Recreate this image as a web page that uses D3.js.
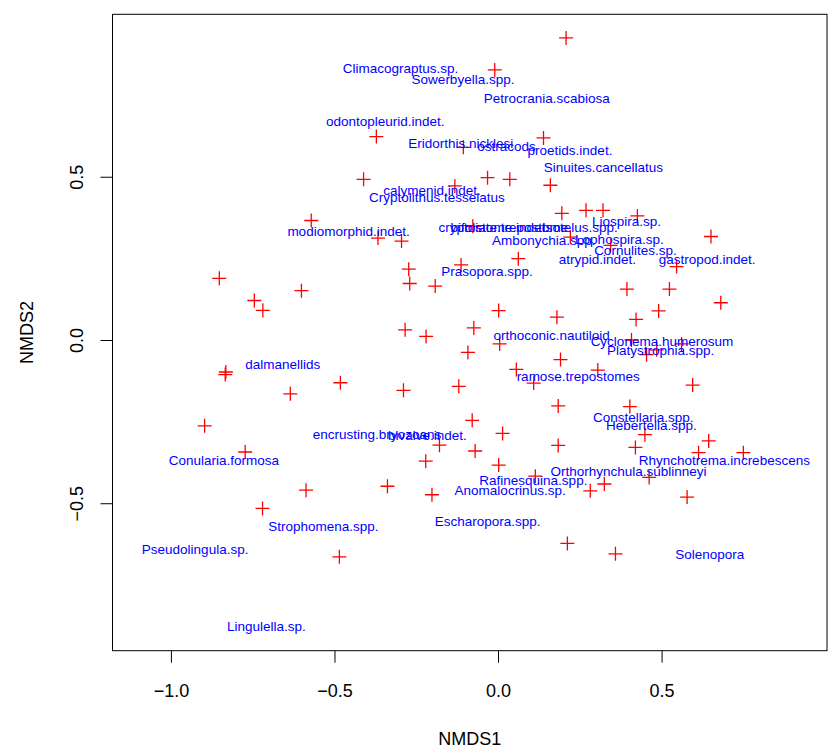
<!DOCTYPE html>
<html>
<head>
<meta charset="utf-8">
<script src="https://cdn.jsdelivr.net/npm/d3@7"></script>
<style>
  html, body { margin: 0; padding: 0; background: #fff; }
  svg { display: block; }
  text { font-family: "Liberation Sans", Arial, Helvetica, sans-serif; }
</style>
</head>
<body>
<div id="chart"></div>
<script>
// ---- data: site scores (red crosses) ----
const siteX = [0.208,-0.010,-0.372,0.139,-0.106,-0.411,-0.032,0.036,-0.132,0.160,
  0.195,0.269,0.321,0.426,-0.571,-0.077,0.651,-0.367,-0.295,0.221,
  0.344,0.062,-0.113,-0.273,0.546,-0.852,-0.270,-0.192,-0.601,0.394,
  0.524,-0.745,-0.719,0.681,0.002,0.491,0.180,0.422,-0.284,-0.074,
  -0.220,0.005,0.408,0.561,0.485,0.454,-0.092,0.191,-0.832,-0.834,
  0.056,0.305,-0.482,0.109,0.595,-0.635,-0.289,-0.120,0.184,0.403,
  -0.897,-0.079,0.014,0.449,0.644,0.184,0.420,-0.773,-0.179,-0.070,
  0.613,0.750,-0.221,0.002,0.114,0.462,0.325,0.282,-0.338,-0.587,
  -0.202,0.578,-0.720,0.212,0.359,-0.485];
const siteY = [0.925,0.827,0.623,0.619,0.590,0.492,0.497,0.492,0.472,0.474,
  0.388,0.397,0.397,0.380,0.366,0.348,0.317,0.312,0.303,0.315,
  0.290,0.249,0.230,0.217,0.225,0.189,0.173,0.165,0.151,0.156,
  0.156,0.121,0.091,0.114,0.090,0.089,0.070,0.063,0.031,0.037,
  0.011,-0.012,0.000,-0.012,-0.030,-0.045,-0.038,-0.060,-0.098,-0.106,
  -0.090,-0.092,-0.131,-0.132,-0.138,-0.165,-0.154,-0.142,-0.202,-0.204,
  -0.263,-0.246,-0.286,-0.290,-0.309,-0.323,-0.329,-0.343,-0.322,-0.340,
  -0.345,-0.345,-0.371,-0.383,-0.417,-0.421,-0.441,-0.462,-0.448,-0.460,
  -0.474,-0.481,-0.516,-0.623,-0.655,-0.664];

// ---- data: species scores (blue labels) ----
const speciesNames = ["Climacograptus.sp.","Sowerbyella.spp.","Petrocrania.scabiosa","odontopleurid.indet.",
  "Eridorthis.nicklesi","ostracods","proetids.indet.","Sinuites.cancellatus","calymenid.indet.",
  "Cryptolithus.tesselatus","modiomorphid.indet.","Liospira.sp.","cryptostome.indet.",
  "bifoliate.trepostome","Isotelus.spp.","Ambonychia.spp.","Lophospira.sp.","Cornulites.sp.",
  "atrypid.indet.","gastropod.indet.","Prasopora.spp.","dalmanellids","orthoconic.nautiloid",
  "Cyclonema.humerosum","Platystrophia.spp.","ramose.trepostomes","Constellaria.spp.",
  "Hebertella.spp.","encrusting.bryozoans","bivalve.indet.","Conularia.formosa",
  "Rhynchotrema.increbescens","Orthorhynchula.sublinneyi","Rafinesquina.spp.",
  "Anomalocrinus.sp.","Escharopora.spp.","Strophomena.spp.","Pseudolingula.sp.",
  "Solenopora","Lingulella.sp."];
const speciesX = [-0.298,-0.107,0.149,-0.345,-0.114,0.026,0.220,0.322,-0.202,
  -0.187,-0.457,0.393,-0.013,0.035,0.250,0.140,0.371,0.420,0.304,0.639,-0.034,
  -0.658,0.164,0.501,0.497,0.245,0.444,0.469,-0.370,-0.216,-0.838,0.692,0.399,
  0.108,0.037,-0.032,-0.534,-0.926,0.647,-0.708];
const speciesY = [0.832,0.800,0.740,0.669,0.603,0.593,0.580,0.529,0.459,
  0.438,0.334,0.363,0.345,0.345,0.345,0.305,0.310,0.274,0.248,0.248,0.210,
  -0.074,0.016,-0.002,-0.032,-0.112,-0.236,-0.262,-0.288,-0.292,-0.369,-0.369,-0.403,
  -0.430,-0.461,-0.556,-0.571,-0.640,-0.655,-0.876];

const xTicks = [-1.0, -0.5, 0.0, 0.5];
const yTicks = [-0.5, 0.0, 0.5];
const xTitle = "NMDS1";
const yTitle = "NMDS2";

// ---- layout ----
const W = 834, H = 756;
const L = 112.5, R = 827, T = 14.3, B = 650.7;

const x = d3.scaleLinear().domain([-1.1786, 1.0057]).range([L, R]);
const y = d3.scaleLinear().domain([-0.9516, 0.9975]).range([B, T]);

const svg = d3.select("#chart").append("svg")
  .attr("width", W).attr("height", H);

// x axis
const fmt = d3.format(".1f");
const gx = svg.append("g").attr("transform", `translate(0,${B})`)
  .call(d3.axisBottom(x).tickValues(xTicks).tickFormat(fmt).tickSize(12).tickSizeOuter(0));
gx.select(".domain").remove();
gx.selectAll(".tick line").attr("stroke", "#000").attr("stroke-width", 1);
gx.selectAll(".tick text")
  .attr("y", 46).attr("dy", null)
  .attr("font-size", 18).attr("fill", "#000")
  .attr("font-family", "'Liberation Sans', Arial, Helvetica, sans-serif");

// y axis
const gy = svg.append("g").attr("transform", `translate(${L},0)`)
  .call(d3.axisLeft(y).tickValues(yTicks).tickFormat(fmt).tickSize(12).tickSizeOuter(0));
gy.select(".domain").remove();
gy.selectAll(".tick line").attr("stroke", "#000").attr("stroke-width", 1);
gy.selectAll(".tick text")
  .attr("x", null).attr("dy", null)
  .attr("text-anchor", "middle")
  .attr("transform", "translate(-30,0) rotate(-90)")
  .attr("font-size", 18).attr("fill", "#000")
  .attr("font-family", "'Liberation Sans', Arial, Helvetica, sans-serif");

// axis titles
svg.append("text")
  .attr("x", (L + R) / 2).attr("y", B + 94)
  .attr("text-anchor", "middle").attr("font-size", 18).attr("fill", "#000")
  .text(xTitle);
svg.append("text")
  .attr("transform", `translate(${L - 80},${(T + B) / 2}) rotate(-90)`)
  .attr("text-anchor", "middle").attr("font-size", 18).attr("fill", "#000")
  .text(yTitle);

// box
svg.append("rect")
  .attr("x", L).attr("y", T).attr("width", R - L).attr("height", B - T)
  .attr("fill", "none").attr("stroke", "#000").attr("stroke-width", 1);

// site crosses
const arm = 7;
const sites = siteX.map((v, i) => ({ x: v, y: siteY[i] }));
const gp = svg.append("g").attr("stroke", "#ff0000").attr("stroke-width", 1.3).attr("fill", "none");
gp.selectAll("path").data(sites).join("path")
  .attr("d", d => {
    const cx = x(d.x), cy = y(d.y);
    return `M${cx - arm},${cy}H${cx + arm}M${cx},${cy - arm}V${cy + arm}`;
  });

// species labels
const species = speciesNames.map((n, i) => ({ name: n, x: speciesX[i], y: speciesY[i] }));
svg.append("g").selectAll("text").data(species).join("text")
  .attr("x", d => x(d.x))
  .attr("y", d => y(d.y))
  .attr("dy", "0.36em")
  .attr("text-anchor", "middle")
  .attr("font-size", 13.5)
  .attr("fill", "#0000ff")
  .text(d => d.name);
</script>
</body>
</html>
